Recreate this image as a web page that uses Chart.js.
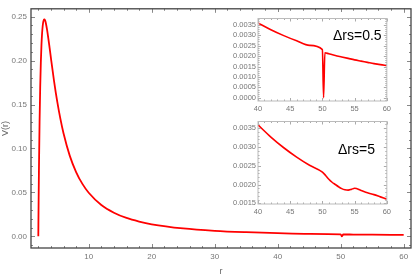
<!DOCTYPE html>
<html>
<head>
<meta charset="utf-8">
<script src="https://cdn.jsdelivr.net/npm/chart.js@4.4.0/dist/chart.umd.min.js"></script>
<style>
  body { margin: 0; background: #fff; }
  #wrap { position: relative; width: 415px; height: 277px; }
  canvas { position: absolute; }
  #main { left: 0; top: 0; }
  #inset1 { left: 226px; top: 12px; background: #fff; }
  #inset2 { left: 226px; top: 115px; background: #fff; }
</style>
</head>
<body>
<div id="wrap">
  <canvas id="main" width="415" height="277"></canvas>
  <canvas id="inset1" width="168" height="102"></canvas>
  <canvas id="inset2" width="168" height="104"></canvas>
</div>
<script>
// main curve
const mainR = [2, 2.05, 2.1, 2.2, 2.3, 2.4, 2.5, 2.6, 2.7, 2.8, 2.9, 3.0, 3.1, 3.2, 3.4, 3.6, 3.8, 4, 4.5, 5,
  5.5, 6, 7, 8, 9, 10, 12, 14, 16, 18, 20, 25, 30, 35, 40, 45, 50, 50.2, 50.4, 52, 55, 58, 60];
const mainV = [0, 0.0405, 0.0751, 0.1298, 0.1694, 0.1977, 0.2176, 0.2311, 0.2397, 0.2447, 0.2469, 0.2469, 0.2454,
  0.2426, 0.2347, 0.2248, 0.2141, 0.2031, 0.1768, 0.1536, 0.1339, 0.1173, 0.0916, 0.0732, 0.0597, 0.0496, 0.0357,
  0.0269, 0.0209, 0.0168, 0.0137, 0.0090, 0.0063, 0.0047, 0.0036, 0.00285, 0.0023, 0.0000, 0.00216, 0.00203,
  0.00182, 0.00164, 0.00155];

// inset 1 (Δrs=0.5)
const inset1R = [40, 42, 44, 46, 48, 50, 50.18, 50.38, 51, 52, 53, 54, 55, 56, 57, 58, 59, 60];
const inset1V = [0.00359, 0.003265, 0.00298, 0.00273, 0.002513, 0.00231, 0.00001, 0.00216, 0.00211, 0.00203,
  0.00196, 0.00189, 0.00182, 0.00176, 0.0017, 0.00164, 0.00159, 0.00155];

// inset 2 (Δrs=5)
const inset2R = [40, 42, 44, 46, 48, 50, 50.5, 51, 51.5, 52, 52.5, 53, 53.5, 54, 54.5, 55, 56, 57, 58, 59, 60];
const inset2V = [0.00359, 0.003265, 0.00298, 0.00273, 0.002513, 0.00233, 0.00224, 0.00214, 0.00206, 0.002,
  0.00194, 0.00189, 0.00186, 0.00185, 0.00187, 0.0019, 0.00184, 0.00178, 0.00173, 0.00167, 0.00161];

const mainXTicks = [10, 20, 30, 40, 50, 60];
const mainYTicks = [0, 0.05, 0.1, 0.15, 0.2, 0.25];
const insetXTicks = [40, 45, 50, 55, 60];
const inset1YTicks = [0, 0.0005, 0.001, 0.0015, 0.002, 0.0025, 0.003, 0.0035];
const inset2YTicks = [0.0015, 0.002, 0.0025, 0.003, 0.0035];
const insetLabels = ['Δrs=0.5', 'Δrs=5'];

const RED = '#ff0000';
const LABEL = '#777';

function pts(rs, vs) {
  return rs.map((r, i) => ({ x: r, y: vs[i] }));
}

// frame plus inward ticks on all four sides
function framePlugin(o) {
  return {
    id: 'frame',
    afterDraw(chart) {
      const { ctx, chartArea: a, scales: { x, y } } = chart;
      ctx.save();
      ctx.strokeStyle = o.tickColor;
      ctx.lineWidth = 1;
      ctx.beginPath();
      const n0 = Math.ceil(x.min / o.xMinor - 1e-9), n1 = Math.floor(x.max / o.xMinor + 1e-9);
      for (let n = n0; n <= n1; n++) {
        const v = n * o.xMinor;
        const major = Math.abs(v / o.xMajor - Math.round(v / o.xMajor)) < 1e-6;
        const len = major ? o.major : o.minor;
        const px = Math.round(x.getPixelForValue(v)) + 0.5;
        ctx.moveTo(px, a.bottom); ctx.lineTo(px, a.bottom - len);
        ctx.moveTo(px, a.top); ctx.lineTo(px, a.top + len);
      }
      const m0 = Math.ceil(y.min / o.yMinor - 1e-9), m1 = Math.floor(y.max / o.yMinor + 1e-9);
      for (let n = m0; n <= m1; n++) {
        const v = n * o.yMinor;
        const major = Math.abs(v / o.yMajor - Math.round(v / o.yMajor)) < 1e-6;
        const len = major ? o.major : o.minor;
        const py = Math.round(y.getPixelForValue(v)) + 0.5;
        ctx.moveTo(a.left, py); ctx.lineTo(a.left + len, py);
        ctx.moveTo(a.right, py); ctx.lineTo(a.right - len, py);
      }
      ctx.stroke();
      ctx.strokeStyle = o.frameColor;
      ctx.lineWidth = o.frameWidth;
      ctx.strokeRect(a.left, a.top, a.width, a.height);
      if (o.text) {
        ctx.fillStyle = '#000';
        ctx.font = '14px "Liberation Sans", Arial, sans-serif';
        ctx.textBaseline = 'middle';
        ctx.fillText(o.text, a.left + o.tx, a.top + o.ty);
      }
      ctx.restore();
    }
  };
}

function fixTicks(list) {
  return s => { s.ticks = list.map(v => ({ value: v })); };
}

// main plot
new Chart(document.getElementById('main'), {
  type: 'line',
  data: {
    datasets: [{
      data: pts(mainR, mainV),
      borderColor: RED,
      borderWidth: 1.8,
      pointRadius: 0,
      cubicInterpolationMode: 'monotone',
      fill: false
    }]
  },
  options: {
    responsive: false,
    animation: false,
    layout: { padding: { top: 3, right: 4, left: 0, bottom: 0 } },
    plugins: { legend: { display: false }, tooltip: { enabled: false } },
    scales: {
      x: {
        type: 'linear',
        min: 0.84, max: 61.16,
        afterBuildTicks: fixTicks(mainXTicks),
        afterFit: s => { s.height = 29; },
        grid: { display: false, drawTicks: false },
        border: { display: false },
        ticks: { color: LABEL, font: { size: 8, family: 'Liberation Sans' }, padding: 4, maxRotation: 0,
          autoSkip: false, callback: v => String(v) },
        title: { display: true, text: 'r', color: '#666', font: { size: 9, family: 'Liberation Sans' },
          padding: 0 }
      },
      y: {
        min: -0.0133, max: 0.259,
        afterBuildTicks: fixTicks(mainYTicks),
        afterFit: s => { s.width = 31; },
        grid: { display: false, drawTicks: false },
        border: { display: false },
        ticks: { color: LABEL, font: { size: 8, family: 'Liberation Sans' }, padding: 4,
          autoSkip: false, callback: v => v.toFixed(2) },
        title: { display: true, text: 'V(r)', color: '#666', font: { size: 9, family: 'Liberation Sans' },
          padding: 0 }
      }
    }
  },
  plugins: [framePlugin({ xMajor: 10, xMinor: 2, yMajor: 0.05, yMinor: 0.01, major: 4, minor: 2,
    tickColor: '#888', frameColor: '#444', frameWidth: 1.3 })]
});

function makeInset(id, rs, vs, yTicks, yMin, yMax, xHeight, text, tx, ty) {
  new Chart(document.getElementById(id), {
    type: 'line',
    data: {
      datasets: [{
        data: pts(rs, vs),
        borderColor: RED,
        borderWidth: 1.6,
        pointRadius: 0,
        cubicInterpolationMode: 'monotone',
        fill: false
      }]
    },
    options: {
      responsive: false,
      animation: false,
      layout: { padding: { top: 3, right: 4, left: 0, bottom: 0 } },
      plugins: { legend: { display: false }, tooltip: { enabled: false } },
      scales: {
        x: {
          type: 'linear',
          min: 40, max: 60,
          afterBuildTicks: fixTicks(insetXTicks),
          afterFit: s => { s.height = xHeight; },
          grid: { display: false, drawTicks: false },
          border: { display: false },
          ticks: { color: LABEL, font: { size: 7.5, family: 'Liberation Sans' }, padding: 3, maxRotation: 0,
            autoSkip: false, callback: v => String(v) }
        },
        y: {
          min: yMin, max: yMax,
          afterBuildTicks: fixTicks(yTicks),
          afterFit: s => { s.width = 32; },
          grid: { display: false, drawTicks: false },
          border: { display: false },
          ticks: { color: LABEL, font: { size: 7.5, family: 'Liberation Sans' }, padding: 2,
            autoSkip: false, callback: v => v.toFixed(4) }
        }
      }
    },
    plugins: [framePlugin({ xMajor: 5, xMinor: 1, yMajor: 0.0005, yMinor: 0.0001, major: 3, minor: 1.5,
      tickColor: '#aaa', frameColor: '#bbb', frameWidth: 1, text: text, tx: tx, ty: ty })]
  });
}

makeInset('inset1', inset1R, inset1V, inset1YTicks, -0.00015, 0.0038, 13, insetLabels[0], 75, 18);
makeInset('inset2', inset2R, inset2V, inset2YTicks, 0.00148, 0.00368, 15, insetLabels[1], 80, 29);
</script>
</body>
</html>
